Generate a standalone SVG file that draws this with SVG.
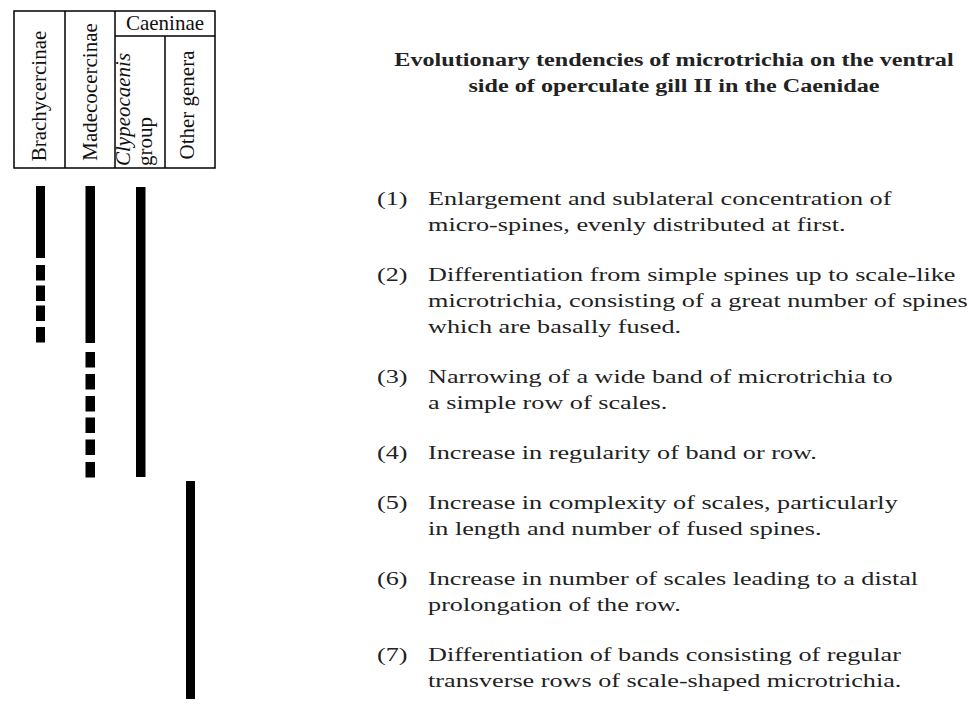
<svg xmlns="http://www.w3.org/2000/svg" width="969" height="708" viewBox="0 0 969 708">
<style>
.tb{fill:none;stroke:#000;stroke-width:1.5}
.hd{font-family:"Liberation Serif","Times New Roman",serif;font-size:21px;fill:#111}
.it{font-style:italic}
.bar{fill:#000}
.title{font-family:"Liberation Serif","Times New Roman",serif;font-size:19.5px;font-weight:bold;fill:#222;text-anchor:middle}
.bd{font-family:"Liberation Serif","Times New Roman",serif;font-size:19.5px;fill:#222}
</style>
<rect width="969" height="708" fill="#fff"/>
<g id="header-table">
<rect class="tb" x="14" y="11" width="201" height="157"/>
<line class="tb" x1="65" y1="11" x2="65" y2="168"/>
<line class="tb" x1="115" y1="11" x2="115" y2="168"/>
<line class="tb" x1="115" y1="36" x2="215" y2="36"/>
<line class="tb" x1="165" y1="36" x2="165" y2="168"/>
</g>
<g id="col-caeninae"><text class="hd" x="165" y="30" text-anchor="middle">Caeninae</text></g>
<g id="col-brachycercinae"><text class="hd" transform="translate(45.5 96) rotate(-90)" text-anchor="middle">Brachycercinae</text></g>
<g id="col-madecocercinae"><text class="hd" transform="translate(96.5 92) rotate(-90)" text-anchor="middle">Madecocercinae</text></g>
<g id="col-clypeocaenis"><text class="hd" transform="translate(130 166) rotate(-90)"><tspan class="it">Clypeocaenis</tspan><tspan x="0" dy="22">group</tspan></text></g>
<g id="col-other"><text class="hd" transform="translate(194 105) rotate(-90)" text-anchor="middle">Other genera</text></g>
<g id="bar-brachycercinae">
<rect class="bar" x="36" y="186" width="9" height="72"/>
<rect class="bar" x="36" y="265" width="9" height="15.5"/>
<rect class="bar" x="36" y="285.5" width="9" height="15.5"/>
<rect class="bar" x="36" y="305.5" width="9" height="15.5"/>
<rect class="bar" x="36" y="327" width="9" height="15.5"/>
</g>
<g id="bar-madecocercinae">
<rect class="bar" x="85.5" y="186" width="9.5" height="157"/>
<rect class="bar" x="85.5" y="352" width="9.5" height="15.5"/>
<rect class="bar" x="85.5" y="374" width="9.5" height="15.5"/>
<rect class="bar" x="85.5" y="396" width="9.5" height="15.5"/>
<rect class="bar" x="85.5" y="417.5" width="9.5" height="15.5"/>
<rect class="bar" x="85.5" y="439.5" width="9.5" height="15.5"/>
<rect class="bar" x="85.5" y="462" width="9.5" height="15.5"/>
</g>
<g id="bar-clypeocaenis"><rect class="bar" x="136" y="187" width="9.5" height="290"/></g>
<g id="bar-other"><rect class="bar" x="186" y="481" width="9" height="218"/></g>
<g id="title" transform="scale(1.24 1)">
<text class="title" x="543.5" y="66">Evolutionary tendencies of microtrichia on the ventral</text>
<text class="title" x="543.5" y="92">side of operculate gill II in the Caenidae</text>
</g>
<g id="item-1" class="bd" transform="scale(1.344 1)">
<text x="280.5" y="205">(1)</text>
<text x="318.5" y="205">Enlargement and sublateral concentration of</text>
<text x="318.5" y="231">micro-spines, evenly distributed at first.</text>
</g>
<g id="item-2" class="bd" transform="scale(1.344 1)">
<text x="280.5" y="281">(2)</text>
<text x="318.5" y="281">Differentiation from simple spines up to scale-like</text>
<text x="318.5" y="307">microtrichia, consisting of a great number of spines</text>
<text x="318.5" y="333">which are basally fused.</text>
</g>
<g id="item-3" class="bd" transform="scale(1.344 1)">
<text x="280.5" y="383">(3)</text>
<text x="318.5" y="383">Narrowing of a wide band of microtrichia to</text>
<text x="318.5" y="409">a simple row of scales.</text>
</g>
<g id="item-4" class="bd" transform="scale(1.344 1)">
<text x="280.5" y="459">(4)</text>
<text x="318.5" y="459">Increase in regularity of band or row.</text>
</g>
<g id="item-5" class="bd" transform="scale(1.344 1)">
<text x="280.5" y="509">(5)</text>
<text x="318.5" y="509">Increase in complexity of scales, particularly</text>
<text x="318.5" y="535">in length and number of fused spines.</text>
</g>
<g id="item-6" class="bd" transform="scale(1.344 1)">
<text x="280.5" y="585">(6)</text>
<text x="318.5" y="585">Increase in number of scales leading to a distal</text>
<text x="318.5" y="611">prolongation of the row.</text>
</g>
<g id="item-7" class="bd" transform="scale(1.344 1)">
<text x="280.5" y="661">(7)</text>
<text x="318.5" y="661">Differentiation of bands consisting of regular</text>
<text x="318.5" y="687">transverse rows of scale-shaped microtrichia.</text>
</g>
</svg>
